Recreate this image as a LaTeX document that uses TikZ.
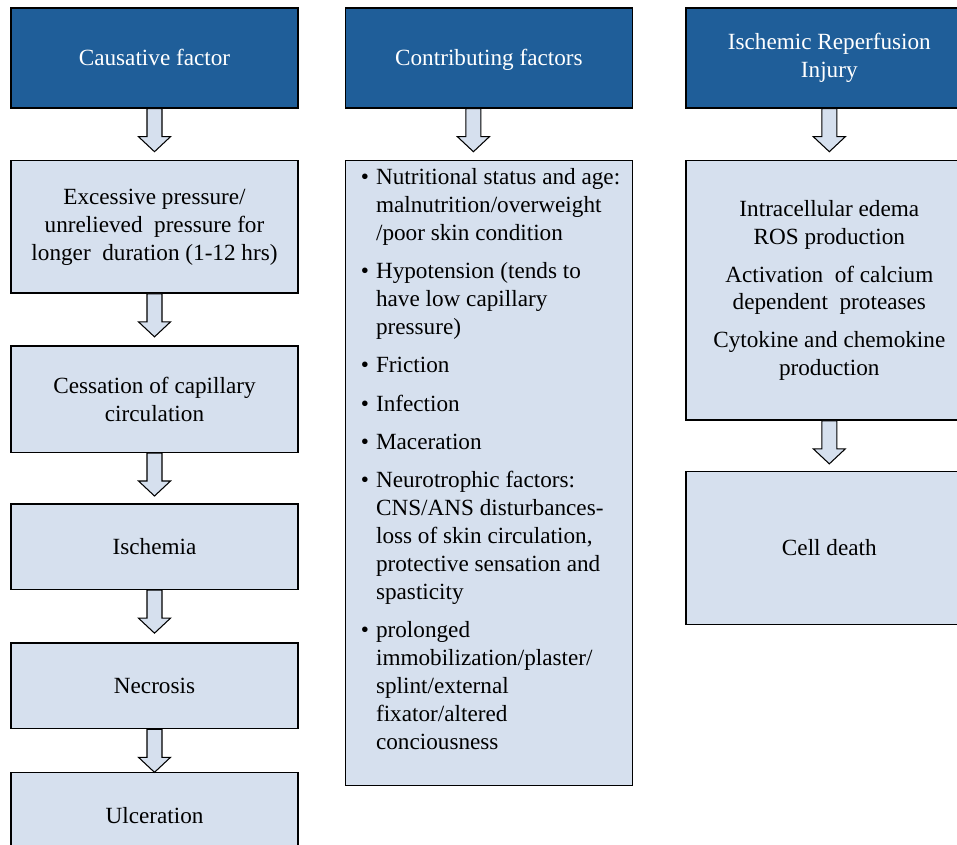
\documentclass[tikz,border=0pt]{standalone}
\usepackage{fontspec}
\setmainfont{Liberation Serif}
\usetikzlibrary{calc,positioning}

\definecolor{headblue}{RGB}{31,94,153}
\definecolor{boxfill}{RGB}{214,224,238}
\newcommand{\bul}{\llap{\textbullet\hspace{0.14cm}}}

\begin{document}
\begin{tikzpicture}[
  every node/.style={font=\fontsize{13.2}{15.9}\selectfont},
  head/.style={draw, line width=0.8pt, fill=headblue, text=white, align=center, minimum width=5.74cm, minimum height=2cm},
  headone/.style={head, text height=0.42cm, text depth=0.1cm},
  stage/.style={draw, line width=0.8pt, fill=boxfill, align=center, minimum width=5.74cm},
  blockarrow/.style={draw, line width=0.6pt, fill=boxfill, to path={
    let \p1=(\tikztostart) in
    (\x1-0.15cm,\y1) -- (\x1-0.15cm,\y1-0.56cm) -- (\x1-0.32cm,\y1-0.56cm) -- (\x1,\y1-0.86cm)
    -- (\x1+0.32cm,\y1-0.56cm) -- (\x1+0.15cm,\y1-0.56cm) -- (\x1+0.15cm,\y1) -- cycle}}
]
\useasboundingbox (0,0) rectangle (19.14,-16.9);

% headers
\node[headone] (cause) at (3.09,-1.16) {Causative factor};
\node[headone, right=0.92cm of cause] (contrib) {Contributing factors};
\node[head, right=1.04cm of contrib] (reperf) {Ischemic Reperfusion\\Injury};

% causative factor column
\node[stage, minimum height=2.65cm, below=1.025cm of cause] (press) {Excessive pressure/\\unrelieved\ \ pressure for\\longer\ \ duration (1-12 hrs)};
\node[stage, minimum height=2.13cm, below=1.025cm of press] (cess) {Cessation of capillary\\circulation};
\node[stage, minimum height=1.71cm, below=1.005cm of cess] (isch) {Ischemia};
\node[stage, minimum height=1.71cm, below=1.045cm of isch] (necro) {Necrosis};
\node[stage, minimum height=1.72cm, below=0.845cm of necro] (ulcer) {Ulceration};

% contributing factors column
\node[stage, minimum height=12.5cm, below=1.025cm of contrib] (list) {};
\node[anchor=north west, inner sep=0pt, align=left]
  at ([xshift=0.62cm, yshift=-0.16cm]list.north west) (items) {%
  \bul Nutritional status and age:\\ malnutrition/overweight\\ /poor skin condition\\[5.9pt]
  \bul Hypotension (tends to\\ have low capillary\\ pressure)\\[5.9pt]
  \bul Friction\\[5.9pt]
  \bul Infection\\[5.9pt]
  \bul Maceration\\[5.9pt]
  \bul Neurotrophic factors:\\ CNS/ANS disturbances-\\ loss of skin circulation,\\ protective sensation and\\ spasticity\\[5.9pt]
  \bul prolonged\\ immobilization/plaster/\\ splint/external\\ fixator/altered\\ conciousness};

% reperfusion column
\node[stage, minimum height=5.19cm, below=1.025cm of reperf] (edema) {Intracellular edema\\ROS production\\[5.7pt]Activation\ \ of calcium\\dependent\ \ proteases\\[5.7pt]Cytokine and chemokine\\production};
\node[stage, minimum height=3.06cm, below=1.0cm of edema] (death) {Cell death};

% arrows
\draw[blockarrow] (cause.south) to (press);
\draw[blockarrow] (press.south) to (cess);
\draw[blockarrow] (cess.south) to (isch);
\draw[blockarrow] (isch.south) to (necro);
\draw[blockarrow] (necro.south) to (ulcer);
\draw[blockarrow] ([xshift=-0.31cm]contrib.south) to (list);
\draw[blockarrow] (reperf.south) to (edema);
\draw[blockarrow] (edema.south) to (death);
\end{tikzpicture}
\end{document}
